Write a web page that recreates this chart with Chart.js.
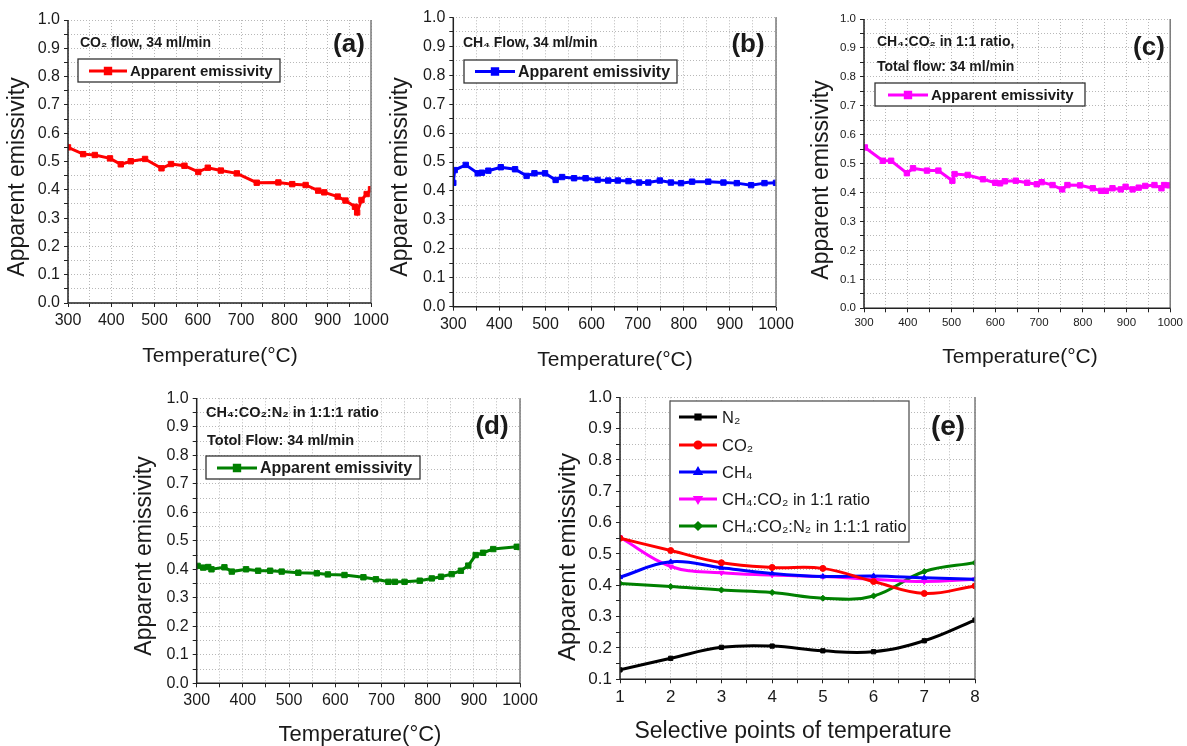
<!DOCTYPE html>
<html><head><meta charset="utf-8">
<script src="https://cdn.jsdelivr.net/npm/chart.js@4/dist/chart.umd.min.js"></script>
<style>
html,body{margin:0;padding:0;background:#fff;}
#wrap{position:relative;width:1187px;height:746px;overflow:hidden;background:#fff;}
canvas{position:absolute;left:0;top:0;}
</style></head><body><div id="wrap">
<canvas id="ca" width="1187" height="746"></canvas>
<canvas id="cb" width="1187" height="746"></canvas>
<canvas id="cc" width="1187" height="746"></canvas>
<canvas id="cd" width="1187" height="746"></canvas>
<canvas id="ce" width="1187" height="746"></canvas>
</div>
<script>
// ---------- data ----------
const tempCO2 = [300,335,362,397,422,445,478,516,538,569,601,623,653,690,736,786,818,849,878,892,923,941,963,968,978,990,1000];
const emisCO2 = [0.550,0.526,0.523,0.511,0.490,0.501,0.509,0.476,0.491,0.485,0.463,0.478,0.468,0.458,0.425,0.426,0.420,0.417,0.397,0.391,0.376,0.362,0.340,0.320,0.364,0.385,0.402];

const tempCH4 = [300,303,327,353,362,376,403,434,459,476,499,522,536,562,587,613,636,657,680,703,723,748,772,794,818,853,886,915,946,975,1000];
const emisCH4 = [0.428,0.472,0.490,0.461,0.463,0.470,0.482,0.475,0.452,0.461,0.461,0.438,0.448,0.444,0.444,0.438,0.436,0.436,0.434,0.429,0.429,0.436,0.429,0.427,0.432,0.432,0.429,0.427,0.420,0.427,0.428];

const tempMix2 = [302,343,362,398,412,444,470,502,507,537,572,600,611,622,647,673,695,706,731,753,765,794,823,842,853,868,887,898,914,928,943,964,980,986,998];
const emisMix2 = [0.556,0.510,0.510,0.467,0.484,0.476,0.476,0.441,0.464,0.461,0.446,0.434,0.432,0.439,0.441,0.434,0.429,0.436,0.426,0.411,0.426,0.425,0.415,0.406,0.406,0.415,0.411,0.420,0.411,0.417,0.423,0.426,0.415,0.426,0.425];

const tempMix3 = [302,314,325,332,360,376,407,433,459,484,520,560,584,620,661,688,715,729,750,783,809,829,852,872,888,904,920,942,993,1000];
const emisMix3 = [0.412,0.406,0.408,0.400,0.407,0.392,0.400,0.395,0.395,0.392,0.388,0.386,0.382,0.380,0.372,0.365,0.356,0.356,0.356,0.360,0.368,0.374,0.383,0.395,0.413,0.450,0.458,0.471,0.479,0.478];

const selPoints = [1,2,3,4,5,6,7,8];
const selN2   = [0.130,0.167,0.202,0.206,0.191,0.188,0.223,0.289];
const selCO2  = [0.550,0.511,0.472,0.457,0.454,0.412,0.374,0.398];
const selCH4  = [0.426,0.475,0.456,0.438,0.428,0.430,0.424,0.419];
const selMix2 = [0.553,0.460,0.440,0.433,0.428,0.419,0.412,0.419];
const selMix3 = [0.406,0.396,0.385,0.377,0.359,0.366,0.444,0.472];

const xTitle = 'Temperature(°C)';
const yTitle = 'Apparent emissivity';
const legendLabel = 'Apparent emissivity';

// ---------- helpers ----------
const FONT = '"Liberation Sans", Arial, Helvetica, sans-serif';
const TXT = '#1a1a1a';
const pairs = (xs, ys) => xs.map((x, i) => ({x: x, y: ys[i]}));

function drawMarker(ctx, ds, x, y) {
  ctx.fillStyle = ds.borderColor; ctx.strokeStyle = ds.borderColor;
  if (Chart.helpers && Chart.helpers.drawPoint) {
    Chart.helpers.drawPoint(ctx, {pointStyle: ds.pointStyle, radius: ds.pointRadius, rotation: ds.pointRotation || 0, borderWidth: 1}, x, y);
  } else {
    ctx.fillRect(x - 3, y - 3, 6, 6);
  }
}

const deco = {
  id: 'deco',
  afterDraw(chart, args, o) {
    const ctx = chart.ctx, a = chart.chartArea;
    ctx.save();
    // frame
    ctx.lineWidth = 1.5; ctx.strokeStyle = '#7a7a7a';
    ctx.beginPath(); ctx.moveTo(a.right, a.top); ctx.lineTo(a.right, a.bottom); ctx.stroke();
    ctx.strokeStyle = '#222';
    ctx.beginPath(); ctx.moveTo(a.left, a.top); ctx.lineTo(a.left, a.bottom); ctx.lineTo(a.right, a.bottom); ctx.stroke();
    // texts
    ctx.fillStyle = TXT; ctx.textBaseline = 'middle';
    (o.texts || []).forEach(t => {
      ctx.save();
      ctx.font = t.font; ctx.textAlign = t.align || 'left'; ctx.fillStyle = TXT;
      ctx.translate(t.x, t.y);
      if (t.rot) ctx.rotate(t.rot);
      ctx.fillText(t.t, 0, 0);
      ctx.restore();
    });
    // legend
    const L = o.legend;
    if (L) {
      ctx.fillStyle = '#fff'; ctx.fillRect(L.x, L.y, L.w, L.h);
      ctx.strokeStyle = L.border || '#333'; ctx.lineWidth = 1.3;
      ctx.strokeRect(L.x, L.y, L.w, L.h);
      chart.data.datasets.forEach((ds, i) => {
        const y = L.rows[i];
        ctx.strokeStyle = ds.borderColor; ctx.lineWidth = ds.borderWidth;
        ctx.beginPath(); ctx.moveTo(L.x1, y); ctx.lineTo(L.x2, y); ctx.stroke();
        drawMarker(ctx, ds, (L.x1 + L.x2) / 2, y);
        ctx.fillStyle = TXT; ctx.font = L.font; ctx.textAlign = 'left'; ctx.textBaseline = 'middle';
        ctx.fillText(ds.label, L.tx, y + 1);
      });
    }
    ctx.restore();
  }
};

function panel(id, p) {
  const YW = 60, XH = 40;
  return new Chart(document.getElementById(id), {
    type: 'line',
    data: {datasets: p.datasets},
    options: {
      responsive: false, animation: false, devicePixelRatio: 1,
      events: [],
      layout: {padding: {left: p.L - YW, right: 1187 - p.R, top: p.T, bottom: 746 - p.B - XH}},
      plugins: {legend: {display: false}, tooltip: {enabled: false}, deco: p.deco},
      scales: {
        x: {
          type: 'linear', min: p.xmin, max: p.xmax,
          afterFit: s => { s.height = XH; },
          ticks: {stepSize: p.xstep, autoSkip: false, maxRotation: 0, padding: p.xpad, color: TXT,
                  font: {family: FONT, size: p.xfs}, callback: p.xcb},
          grid: {color: '#b8b8b8', lineWidth: 1, tickLength: 4, tickColor: '#222', tickWidth: 1},
          border: {display: false, dash: [1, 2]}
        },
        y: {
          type: 'linear', min: p.ymin, max: 1.0,
          afterFit: s => { s.width = YW; },
          ticks: {stepSize: 0.05, autoSkip: false, padding: 4, color: TXT,
                  font: {family: FONT, size: p.yfs},
                  callback: v => { const r = Math.round(v * 20); return r % 2 === 0 ? (r / 20).toFixed(1) : ''; }},
          grid: {color: '#b8b8b8', lineWidth: 1, tickLength: 4, tickColor: '#222', tickWidth: 1},
          border: {display: false, dash: [1, 2]}
        }
      }
    },
    plugins: [deco]
  });
}

function tempSeries(label, xs, ys, color) {
  return {label: label, data: pairs(xs, ys), borderColor: color, backgroundColor: color,
          borderWidth: 3, pointStyle: 'rect', pointRadius: 3.8, pointBorderWidth: 1, tension: 0};
}
const xcbT = v => (v % 100 === 0 ? String(v) : '');
const ROT = -Math.PI / 2;

// (a)
panel('ca', {
  L: 68, R: 371, T: 20, B: 303, xmin: 300, xmax: 1000, xstep: 50, ymin: 0, xfs: 16, yfs: 16, xpad: 4, xcb: xcbT,
  datasets: [tempSeries(legendLabel, tempCO2, emisCO2, '#ff0000')],
  deco: {
    texts: [
      {t: yTitle, x: 18, y: 177, rot: ROT, align: 'center', font: '23px ' + FONT},
      {t: xTitle, x: 220, y: 356, align: 'center', font: '21px ' + FONT},
      {t: 'CO₂ flow, 34 ml/min', x: 80, y: 43, font: 'bold 14px ' + FONT},
      {t: '(a)', x: 349, y: 45, align: 'center', font: 'bold 26px ' + FONT}
    ],
    legend: {x: 78, y: 59, w: 202, h: 23, rows: [71], x1: 89, x2: 127, tx: 130, font: 'bold 15px ' + FONT}
  }
});

// (b)
panel('cb', {
  L: 453.3, R: 776, T: 17.3, B: 306.7, xmin: 300, xmax: 1000, xstep: 50, ymin: 0, xfs: 16, yfs: 16, xpad: 4.5, xcb: xcbT,
  datasets: [tempSeries(legendLabel, tempCH4, emisCH4, '#0000ff')],
  deco: {
    texts: [
      {t: yTitle, x: 401, y: 177, rot: ROT, align: 'center', font: '23px ' + FONT},
      {t: xTitle, x: 615, y: 360, align: 'center', font: '21px ' + FONT},
      {t: 'CH₄ Flow, 34 ml/min', x: 463, y: 43, font: 'bold 14px ' + FONT},
      {t: '(b)', x: 748, y: 45, align: 'center', font: 'bold 26px ' + FONT}
    ],
    legend: {x: 464, y: 60, w: 213, h: 23, rows: [71.5], x1: 475, x2: 515, tx: 518, font: 'bold 16px ' + FONT}
  }
});

// (c)
panel('cc', {
  L: 864, R: 1177.3, T: 19, B: 308.3, xmin: 300, xmax: 1000, xstep: 50, ymin: 0, xfs: 11.5, yfs: 11.5, xpad: 4, xcb: xcbT,
  datasets: [tempSeries(legendLabel, tempMix2, emisMix2, '#ff00ff')],
  deco: {
    texts: [
      {t: yTitle, x: 822, y: 180, rot: ROT, align: 'center', font: '23px ' + FONT},
      {t: xTitle, x: 1020, y: 357, align: 'center', font: '21px ' + FONT},
      {t: 'CH₄:CO₂ in 1:1 ratio,', x: 877, y: 42, font: 'bold 14px ' + FONT},
      {t: 'Total flow: 34 ml/min', x: 877, y: 67, font: 'bold 14px ' + FONT},
      {t: '(c)', x: 1149, y: 48, align: 'center', font: 'bold 26px ' + FONT}
    ],
    legend: {x: 875, y: 83, w: 210, h: 23, rows: [95], x1: 888, x2: 928, tx: 931, font: 'bold 15px ' + FONT}
  }
});

// (d)
panel('cd', {
  L: 196.7, R: 520, T: 398.3, B: 683.3, xmin: 300, xmax: 1000, xstep: 50, ymin: 0, xfs: 16, yfs: 16, xpad: 4, xcb: xcbT,
  datasets: [tempSeries(legendLabel, tempMix3, emisMix3, '#008000')],
  deco: {
    texts: [
      {t: yTitle, x: 145, y: 556, rot: ROT, align: 'center', font: '23px ' + FONT},
      {t: xTitle, x: 360, y: 735, align: 'center', font: '22px ' + FONT},
      {t: 'CH₄:CO₂:N₂ in 1:1:1 ratio', x: 206, y: 413, font: 'bold 14.5px ' + FONT},
      {t: 'Totol Flow: 34 ml/min', x: 207, y: 441, font: 'bold 14.5px ' + FONT},
      {t: '(d)', x: 492, y: 427, align: 'center', font: 'bold 26px ' + FONT}
    ],
    legend: {x: 206, y: 456, w: 214, h: 23, rows: [468], x1: 217, x2: 257, tx: 260, font: 'bold 16px ' + FONT}
  }
});

// (e)
function selSeries(label, ys, color, style, rot) {
  return {label: label, data: pairs(selPoints, ys), borderColor: color, backgroundColor: color,
          borderWidth: 3, pointStyle: style, pointRotation: rot || 0, pointRadius: 3, pointBorderWidth: 1, tension: 0.4};
}
panel('ce', {
  L: 620, R: 975, T: 397.3, B: 679.3, xmin: 1, xmax: 8, xstep: 0.5, ymin: 0.1, xfs: 17, yfs: 17, xpad: 3.5,
  xcb: v => (Number.isInteger(v) ? String(v) : ''),
  datasets: [
    selSeries('N₂', selN2, '#000000', 'rect'),
    selSeries('CO₂', selCO2, '#ff0000', 'circle'),
    selSeries('CH₄', selCH4, '#0000ff', 'triangle'),
    selSeries('CH₄:CO₂ in 1:1 ratio', selMix2, '#ff00ff', 'triangle', 180),
    selSeries('CH₄:CO₂:N₂ in 1:1:1 ratio', selMix3, '#008000', 'rectRot')
  ],
  deco: {
    texts: [
      {t: yTitle, x: 568, y: 557, rot: ROT, align: 'center', font: '24px ' + FONT},
      {t: 'Selective points of temperature', x: 793, y: 732, align: 'center', font: '23px ' + FONT},
      {t: '(e)', x: 948, y: 427, align: 'center', font: 'bold 28px ' + FONT}
    ],
    legend: {x: 670, y: 401, w: 239, h: 141, rows: [417, 445, 472, 499, 526], x1: 679, x2: 717, tx: 722, font: '16.5px ' + FONT, border: '#555'}
  }
});
</script>
</body></html>
